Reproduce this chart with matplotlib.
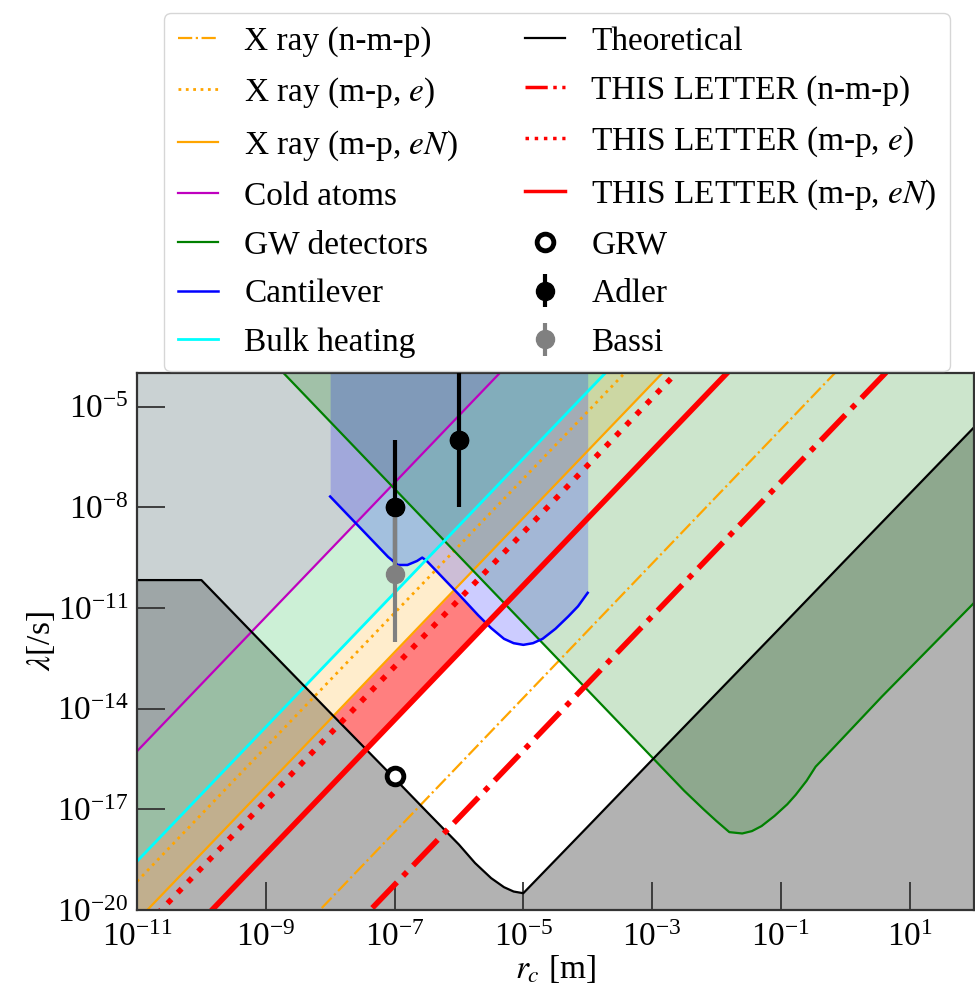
import numpy as np
import matplotlib
matplotlib.use("Agg")
import matplotlib.pyplot as plt
from matplotlib.lines import Line2D

plt.rcParams["font.family"] = "serif"
plt.rcParams["font.serif"] = ["Liberation Serif", "DejaVu Serif"]
plt.rcParams["mathtext.fontset"] = "stix"

# straight bounds (slope 2 in log-log): log10(lambda) at rc = 1e-11 and 1e2
edge_rc = [1e-11, 1e2]
xray_nmp = [-25.68, 0.32]
xray_e = [-19.15, 6.85]
xray_eN = [-20.32, 5.68]
cold_atoms = [-15.27, 10.73]
bulk_heating = [-18.55, 7.45]
letter_nmp = [-27.25, -1.25]
letter_e = [-20.75, 5.25]
letter_eN = [-22.33, 3.67]

# theoretical lower bound (log10 rc, log10 lambda)
theory_x = [-11, -10, -9, -8, -7, -6.5, -6, -5.75, -5.5, -5.3, -5.15, -5.0,
            -4, -3, -2, -1, 0, 1, 2]
theory_y = [-10.17, -10.17, -12.15, -14.12, -16.08, -17.07, -18.05, -18.6,
            -19.05, -19.32, -19.45, -19.5, -17.52, -15.53, -13.55, -11.57,
            -9.58, -7.6, -5.62]

# GW detectors
gw_x = [-9.0, -2.5, -2.2, -2.0, -1.8, -1.6, -1.45, -1.3, -1.1, -0.9, -0.77,
        -0.6, -0.46, -0.36, 0.57, 2.0]
gw_y = [-3.45, -16.45, -17.0, -17.35, -17.68, -17.72, -17.65, -17.5, -17.2,
        -16.85, -16.57, -16.15, -15.73, -15.53, -13.64, -10.85]

# cantilever
cant_x = [-8.0, -7.5, -7.1, -6.95, -6.8, -6.65, -6.57, -6.5, -6.0, -5.7, -5.5,
          -5.3, -5.15, -5.0, -4.85, -4.7, -4.5, -4.3, -4.15, -4.0]
cant_y = [-7.68, -8.68, -9.48, -9.72, -9.72, -9.6, -9.5, -9.6, -10.6, -11.22,
          -11.6, -11.92, -12.05, -12.1, -12.05, -11.92, -11.62, -11.25, -10.95,
          -10.55]

# points
grw_rc, grw_lam = [1e-7], [1e-16]
adler_rc = [1e-7, 1e-6]
adler_lam = np.array([1e-8, 1e-6])
adler_lo = np.array([1e-10, 1e-8])
adler_hi = np.array([1e-6, 1e-4])
bassi_rc = [1e-7]
bassi_lam = np.array([1e-10])
bassi_lo = np.array([1e-12])
bassi_hi = np.array([1e-8])

TOP = 1e-4
BOT = 1e-20


def lam(v):
    return 10.0 ** np.asarray(v, dtype=float)


fig = plt.figure(figsize=(9.75, 9.92), dpi=100)
ax = fig.add_axes([137 / 975, 82 / 992, 837 / 975, 537 / 992])
ax.set_xscale("log")
ax.set_yscale("log")

# filled regions
th_rc, th_lam = lam(theory_x), lam(theory_y)
ax.fill_between(th_rc, BOT, th_lam, color="k", alpha=0.3, lw=0, zorder=1)
ax.fill_between(edge_rc, lam(xray_eN), TOP, color="orange", alpha=0.2, lw=0, zorder=1)
ax.fill_between(edge_rc, lam(bulk_heating), TOP, color="cyan", alpha=0.2, lw=0, zorder=1)
ax.fill_between(edge_rc, lam(cold_atoms), TOP, color="m", alpha=0.12, lw=0, zorder=1)
ax.fill_between(lam(gw_x), lam(gw_y), TOP, color="green", alpha=0.2, lw=0, zorder=1)
ax.fill_between(lam(cant_x), lam(cant_y), TOP, color="blue", alpha=0.2, lw=0, zorder=1)

# newly excluded band: above THIS LETTER (eN) and theory, below every earlier bound
grid = np.linspace(-11, 2, 2601)
ex = np.log10(edge_rc)
lo = np.maximum(np.interp(grid, ex, letter_eN), np.interp(grid, theory_x, theory_y))
hi = np.minimum(np.interp(grid, ex, xray_eN), np.interp(grid, gw_x, gw_y))
in_box = (grid >= cant_x[0]) & (grid <= cant_x[-1])
hi = np.where(in_box, np.minimum(hi, np.interp(grid, cant_x, cant_y)), hi)
ax.fill_between(10 ** grid, 10 ** lo, 10 ** hi, where=hi > lo, interpolate=True,
                color="red", alpha=0.5, lw=0, zorder=1)

# lines
h = {}
h["xnmp"], = ax.plot(edge_rc, lam(xray_nmp), "-.", color="orange", lw=1.6, label="X ray (n-m-p)")
h["xe"], = ax.plot(edge_rc, lam(xray_e), ":", color="orange", lw=2, label="X ray (m-p, $e$)")
h["xeN"], = ax.plot(edge_rc, lam(xray_eN), "-", color="orange", lw=1.6, label="X ray (m-p, $eN$)")
h["cold"], = ax.plot(edge_rc, lam(cold_atoms), "-", color="m", lw=1.6, label="Cold atoms")
h["gw"], = ax.plot(lam(gw_x), lam(gw_y), "-", color="green", lw=1.6, label="GW detectors")
h["cant"], = ax.plot(lam(cant_x), lam(cant_y), "-", color="blue", lw=1.8, label="Cantilever")
h["bulk"], = ax.plot(edge_rc, lam(bulk_heating), "-", color="cyan", lw=2, label="Bulk heating")
h["th"], = ax.plot(th_rc, th_lam, "-", color="k", lw=1.6, label="Theoretical")
ax.plot(edge_rc, lam(letter_nmp), "-.", color="red", lw=4)
ax.plot(edge_rc, lam(letter_e), ":", color="red", lw=4)
ax.plot(edge_rc, lam(letter_eN), "-", color="red", lw=4)
# thinner copies for the legend
h["lnmp"] = Line2D([], [], ls="-.", color="red", lw=2.5, label="THIS LETTER (n-m-p)")
h["le"] = Line2D([], [], ls=":", color="red", lw=2.5, label="THIS LETTER (m-p, $e$)")
h["leN"] = Line2D([], [], ls="-", color="red", lw=2.5, label="THIS LETTER (m-p, $eN$)")

h["grw"], = ax.plot(grw_rc, grw_lam, "o", mfc="white", mec="k", mew=3.5, ms=12,
                    zorder=6, label="GRW")
h["adler"] = ax.errorbar(adler_rc, adler_lam, yerr=[adler_lam - adler_lo, adler_hi - adler_lam],
                         fmt="o", color="k", ms=13, elinewidth=3, capsize=0, zorder=5,
                         label="Adler")
h["bassi"] = ax.errorbar(bassi_rc, bassi_lam, yerr=[bassi_lam - bassi_lo, bassi_hi - bassi_lam],
                         fmt="o", color="gray", ms=13, elinewidth=3, capsize=0, zorder=6,
                         label="Bassi")
ax.plot(adler_rc, adler_lam, "o", color="k", ms=13, zorder=7)

ax.set_xlim(1e-11, 1e2)
ax.set_ylim(BOT, TOP)
ax.set_xticks([1e-11, 1e-9, 1e-7, 1e-5, 1e-3, 1e-1, 1e1])
ax.set_yticks([1e-20, 1e-17, 1e-14, 1e-11, 1e-8, 1e-5])
ax.minorticks_off()
ax.tick_params(direction="in", length=20, width=1.3, labelsize=24,
               colors="#333333", labelcolor="k")
ax.tick_params(axis="x", pad=9)
ax.tick_params(axis="y", pad=6)
for s in ax.spines.values():
    s.set_linewidth(1.6)
    s.set_color("#333333")

ax.set_xlabel(r"$r_c$ [m]", fontsize=24, labelpad=0)
ax.set_ylabel(r"$\lambda$[/s]", fontsize=24, labelpad=0)

order = ["xnmp", "xe", "xeN", "cold", "gw", "cant", "bulk",
         "th", "lnmp", "le", "leN", "grw", "adler", "bassi"]
handles = [h[k] for k in order]
labels = [hh.get_label() for hh in handles]
fig.legend(handles, labels, loc="upper center", bbox_to_anchor=(557 / 975, 1 - 13 / 992),
           borderaxespad=0, ncol=2, fontsize=24, handlelength=1.2, labelspacing=0.55,
           columnspacing=2.0, borderpad=0.4)

fig.savefig("out.png", dpi=100)
